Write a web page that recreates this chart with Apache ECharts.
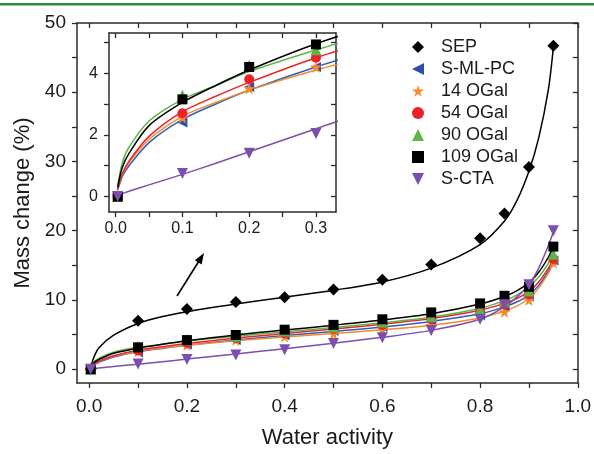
<!DOCTYPE html>
<html>
<head>
<meta charset="utf-8">
<script src="https://cdn.jsdelivr.net/npm/echarts@6/dist/echarts.min.js"></script>
<style>
	html, body { margin: 0; padding: 0; background: #fff; }
	#chart-1 { width: 594px; height: 454px; }
</style>
</head>
<body>
<div id="chart-1"></div>
<script>
	// measured points
	var waterActivity = [0.003, 0.1, 0.2, 0.3, 0.4, 0.5, 0.6, 0.7, 0.8, 0.85, 0.9, 0.95];
	var sepMass    = [0, 7.0, 8.7, 9.7, 10.4, 11.5, 12.9, 15.1, 18.9, 22.5, 29.2, 46.7];
	var smlpcMass  = [0, 2.4, 3.55, 4.2, 4.9, 5.5, 6.1, 6.8, 7.8, 9.0, 10.5, 15.7];
	var ogal14Mass = [0, 2.56, 3.5, 4.2, 4.7, 5.1, 5.7, 6.3, 7.8, 8.3, 10.0, 15.4];
	var ogal54Mass = [0, 2.7, 3.8, 4.5, 5.2, 5.8, 6.4, 7.2, 8.3, 9.3, 10.8, 15.9];
	var ogal90Mass = [0, 3.28, 4.25, 4.76, 5.5, 6.1, 6.8, 7.6, 8.6, 9.85, 11.3, 16.6];
	var ogal109Mass = [0, 3.15, 4.2, 4.93, 5.7, 6.4, 7.2, 8.2, 9.5, 10.6, 11.9, 17.7];
	var sctaMass   = [0, 0.75, 1.4, 2.04, 2.8, 3.7, 4.55, 5.6, 7.2, 9.3, 12.2, 20.0];

	// fitted curves
	var fitX       = [0.003, 0.01, 0.02, 0.05, 0.1, 0.15, 0.2, 0.3, 0.4, 0.5, 0.6, 0.7, 0.8, 0.85, 0.875, 0.9, 0.92, 0.94, 0.95];
	var sepFit     = [0.3, 1.8, 3.1, 4.9, 6.6, 7.6, 8.3, 9.4, 10.4, 11.4, 12.6, 14.6, 18.0, 21.4, 24.3, 28.6, 33.4, 40.5, 46.5];
	var ogal109Fit = [0.3, 0.95, 1.4, 2.3, 3.05, 3.6, 4.1, 4.95, 5.65, 6.35, 7.1, 8.0, 9.4, 10.5, 11.3, 12.5, 14.0, 16.2, 17.7];
	var ogal90Fit  = [0.35, 1.1, 1.6, 2.45, 3.15, 3.6, 4.05, 4.75, 5.4, 6.0, 6.7, 7.5, 8.8, 9.9, 10.7, 11.9, 13.3, 15.3, 16.6];
	var ogal54Fit  = [0.25, 0.75, 1.15, 1.95, 2.75, 3.25, 3.7, 4.5, 5.15, 5.8, 6.5, 7.3, 8.5, 9.5, 10.2, 11.2, 12.6, 14.6, 15.9];
	var smlpcFit   = [0.2, 0.65, 1.0, 1.75, 2.5, 3.0, 3.45, 4.2, 4.85, 5.45, 6.1, 6.9, 8.0, 9.0, 9.7, 10.7, 12.1, 14.2, 15.6];
	var ogal14Fit  = [0.25, 0.7, 1.1, 1.85, 2.6, 3.05, 3.45, 4.1, 4.65, 5.15, 5.7, 6.35, 7.4, 8.4, 9.1, 10.2, 11.7, 13.9, 15.3];
	var sctaFit    = [0.05, 0.1, 0.17, 0.38, 0.72, 1.08, 1.45, 2.2, 2.95, 3.75, 4.6, 5.6, 7.2, 9.0, 10.4, 12.2, 14.6, 17.9, 19.8];

	var xLabels = [0, 0.2, 0.4, 0.6, 0.8, 1.0];
	var xTicks = [0, 0.1, 0.2, 0.3, 0.4, 0.5, 0.6, 0.7, 0.8, 0.9, 1.0];
	var yLabels = [0, 10, 20, 30, 40, 50];
	var yTicks = [0, 5, 10, 15, 20, 25, 30, 35, 40, 45, 50];
	var insetXLabels = [0, 0.1, 0.2, 0.3];
	var insetXTicks = [0, 0.05, 0.1, 0.15, 0.2, 0.25, 0.3];
	var insetYLabels = [0, 2, 4];
	var insetYTicks = [0, 1, 2, 3, 4, 5];

	var groups = [
		{ name: 'SEP', mass: sepMass, fit: sepFit, color: '#000000', line: '#000000', symbol: 'diamond', size: 12, inset: false },
		{ name: 'S-ML-PC', mass: smlpcMass, fit: smlpcFit, color: '#2d4fb0', line: '#2d5ec0', symbol: 'path://M0,5 L10,0 L10,10 Z', size: 10, inset: true },
		{ name: '14 OGal', mass: ogal14Mass, fit: ogal14Fit, color: '#f58a2a', line: '#f58a2a', symbol: 'path://M5,0 L6.2,3.6 L10,3.6 L6.9,5.9 L8.1,9.5 L5,7.3 L1.9,9.5 L3.1,5.9 L0,3.6 L3.8,3.6 Z', size: 12, inset: true },
		{ name: '54 OGal', mass: ogal54Mass, fit: ogal54Fit, color: '#ec2228', line: '#ec2228', symbol: 'circle', size: 10, inset: true },
		{ name: '90 OGal', mass: ogal90Mass, fit: ogal90Fit, color: '#5cb647', line: '#5cb647', symbol: 'triangle', size: 11, inset: true },
		{ name: '109 OGal', mass: ogal109Mass, fit: ogal109Fit, color: '#000000', line: '#000000', symbol: 'rect', size: 10, inset: true },
		{ name: 'S-CTA', mass: sctaMass, fit: sctaFit, color: '#7a4fae', line: '#7a4fae', symbol: 'path://M0,0 L10,0 L5,10 Z', size: 11, inset: true }
	];

	function pairs(xs, ys) {
		var out = [];
		for (var i = 0; i < xs.length; i++) out.push([xs[i], ys[i]]);
		return out;
	}

	var frame = { show: true, onZero: false, lineStyle: { color: '#2b2b2b', width: 1.5 } };
	var font = 'Liberation Sans, Arial, sans-serif';

	function axis(opt) {
		var a = {
			type: 'value',
			gridIndex: opt.grid,
			position: opt.position,
			min: opt.min,
			max: opt.max,
			axisLine: frame,
			splitLine: { show: false },
			axisTick: {
				show: true,
				inside: !!opt.inside,
				length: 5,
				customValues: opt.ticks,
				lineStyle: { color: '#2b2b2b', width: 1.3 }
			},
			axisLabel: opt.labels ? {
				show: true,
				customValues: opt.labels,
				fontSize: opt.fontSize,
				fontFamily: font,
				color: '#1a1a1a',
				margin: opt.margin,
				formatter: opt.fmt
			} : { show: false }
		};
		if (opt.name) {
			a.name = opt.name;
			a.nameLocation = 'middle';
			a.nameGap = opt.nameGap;
			a.nameTextStyle = { fontSize: 22, fontFamily: font, color: '#1a1a1a' };
		}
		return a;
	}

	var fmt1 = function (v) { return v.toFixed(1); };
	var fmt0 = function (v) { return String(Math.round(v)); };

	var xAxes = [
		axis({ grid: 0, position: 'bottom', min: -0.025, max: 1.0, ticks: xTicks, labels: xLabels, fontSize: 19, margin: 14, fmt: fmt1, name: 'Water activity', nameGap: 44 }),
		axis({ grid: 0, position: 'top', min: -0.025, max: 1.0, ticks: xTicks, inside: true }),
		axis({ grid: 1, position: 'bottom', min: -0.01, max: 0.33, ticks: insetXTicks, labels: insetXLabels, fontSize: 16, margin: 9, fmt: fmt1 }),
		axis({ grid: 1, position: 'top', min: -0.01, max: 0.33, ticks: insetXTicks, inside: true })
	];
	var yAxes = [
		axis({ grid: 0, position: 'left', min: -2, max: 50, ticks: yTicks, labels: yLabels, fontSize: 19, margin: 11, fmt: fmt0, name: 'Mass change (%)', nameGap: 42 }),
		axis({ grid: 0, position: 'right', min: -2, max: 50, ticks: yTicks, inside: true }),
		axis({ grid: 1, position: 'left', min: -0.5, max: 5.3, ticks: insetYTicks, labels: insetYLabels, fontSize: 16, margin: 11, fmt: fmt0 }),
		axis({ grid: 1, position: 'right', min: -0.5, max: 5.3, ticks: insetYTicks, inside: true })
	];

	var series = [];
	// main plot (axes 0) and inset (axes 2)
	[0, 2].forEach(function (ax) {
		var list = groups.filter(function (g) { return ax === 0 || g.inset; });
		list.forEach(function (g) {
			series.push({
				name: g.name + ' fit',
				type: 'line',
				xAxisIndex: ax,
				yAxisIndex: ax,
				data: pairs(fitX, g.fit),
				smooth: 0.3,
				showSymbol: false,
				clip: true,
				silent: true,
				lineStyle: { color: g.line, width: 1.5 },
				z: 2
			});
		});
		list.forEach(function (g) {
			series.push({
				name: g.name,
				type: 'scatter',
				xAxisIndex: ax,
				yAxisIndex: ax,
				data: pairs(waterActivity, g.mass),
				symbol: g.symbol,
				symbolSize: g.size,
				clip: true,
				itemStyle: { color: g.color, opacity: 1 },
				z: 3
			});
		});
	});

	var myChart = echarts.init(document.getElementById('chart-1'), null, { renderer: 'canvas' });

	var option = {
		animation: false,
		backgroundColor: '#ffffff',
		grid: [
			{ left: 77, right: 14, top: 23, bottom: 62 },
			{ left: 109, right: 258, top: 33, bottom: 242 }
		],
		xAxis: xAxes,
		yAxis: yAxes,
		legend: {
			orient: 'vertical',
			left: 407,
			top: 33,
			itemWidth: 12,
			itemHeight: 12,
			itemGap: 4,
			selectedMode: false,
			textStyle: { fontSize: 18, fontFamily: font, color: '#1a1a1a', padding: [0, 0, 0, 12] },
			data: groups.map(function (g) { return { name: g.name, icon: g.symbol }; })
		},
		graphic: [
			// green rule at the top of the page
			{ type: 'rect', shape: { x: 0, y: 3, width: 594, height: 2.5 }, style: { fill: '#2e8b3e' }, silent: true },
			// arrow pointing to the inset
			{ type: 'line', shape: { x1: 177, y1: 296, x2: 199, y2: 261 }, style: { stroke: '#000', lineWidth: 1.6 }, silent: true },
			{ type: 'polygon', shape: { points: [[204, 253], [201.6, 264.4], [194.8, 260.2]] }, style: { fill: '#000' }, silent: true }
		],
		series: series
	};

	myChart.setOption(option);
</script>
</body>
</html>
